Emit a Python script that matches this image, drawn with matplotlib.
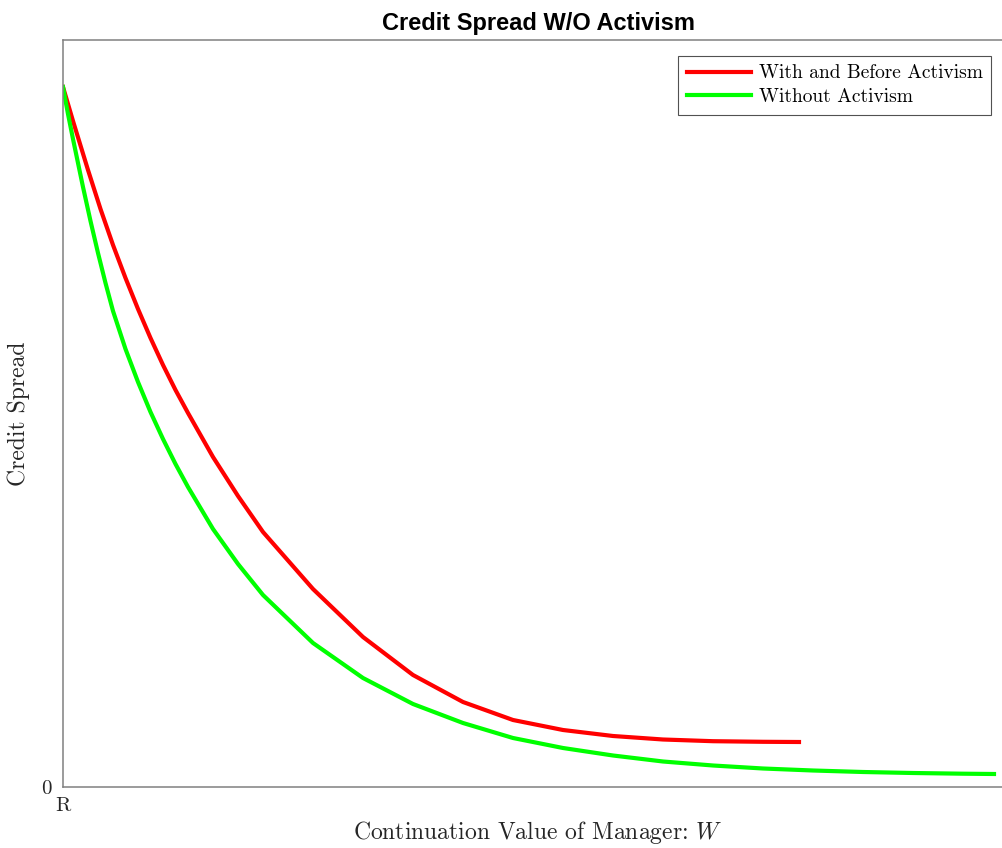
import matplotlib
matplotlib.use("Agg")
import matplotlib.pyplot as plt

# Continuation value W (measured from R) and credit spread for each case
w_with = [0.00, 0.10, 0.25, 0.375, 0.50, 0.625, 0.75, 0.875, 1.00, 1.125, 1.25, 1.50,
          1.75, 2.00, 2.50, 3.00, 3.50, 4.00, 4.50, 5.00, 5.50, 6.00, 6.50, 7.00, 7.36]
spread_with = [7.00, 6.66, 6.17, 5.78, 5.42, 5.09, 4.78, 4.49, 4.22, 3.97, 3.74, 3.30,
               2.91, 2.55, 1.98, 1.50, 1.12, 0.85, 0.67, 0.57, 0.51, 0.475, 0.458, 0.452,
               0.45]

w_without = [0.00, 0.05, 0.10, 0.20, 0.275, 0.35, 0.425, 0.50, 0.625, 0.75, 0.875, 1.00,
             1.125, 1.25, 1.50, 1.75, 2.00, 2.50, 3.00, 3.50, 4.00, 4.50, 5.00, 5.50,
             6.00, 6.50, 7.00, 7.50, 8.00, 8.50, 9.00, 9.31]
spread_without = [7.00, 6.73, 6.48, 6.00, 5.66, 5.34, 5.04, 4.76, 4.38, 4.05, 3.75, 3.48,
                  3.23, 3.00, 2.58, 2.23, 1.92, 1.44, 1.09, 0.83, 0.64, 0.49, 0.39, 0.315,
                  0.255, 0.215, 0.185, 0.165, 0.15, 0.14, 0.133, 0.13]

labels = ["With and Before Activism", "Without Activism"]
colors = ["#ff0000", "#00ff00"]

plt.rcParams["font.family"] = "cmr10"
plt.rcParams["mathtext.fontset"] = "cm"
plt.rcParams["axes.formatter.use_mathtext"] = True

fig = plt.figure(figsize=(10.03, 8.48), dpi=100)
ax = fig.add_axes([63 / 1003, 61 / 848, 950 / 1003, 747 / 848])

ax.plot(w_with, spread_with, color=colors[0], lw=3, label=labels[0])
ax.plot(w_without, spread_without, color=colors[1], lw=3, label=labels[1])

ax.set_xlim(0, 9.5)
ax.set_ylim(0, 7.47)
ax.set_xticks([0])
ax.set_xticklabels(["R"])
ax.set_yticks([0])
ax.set_yticklabels(["0"])
ax.tick_params(length=0, labelsize=15, colors="#262626", pad=8)
ax.tick_params(axis="x", pad=7)

for s in ax.spines.values():
    s.set_color("#808080")
    s.set_linewidth(1.1)

ax.set_xlabel("Continuation Value of Manager: $W$", fontsize=17, color="#262626", labelpad=3)
ax.set_ylabel("Credit Spread", fontsize=17, color="#262626", labelpad=8)
ax.set_title("Credit Spread W/O Activism", fontsize=17, fontweight="bold",
             family="Liberation Sans", pad=7)

leg = ax.legend(loc="upper left", bbox_to_anchor=(615 / 950, 0.979), fontsize=14,
                frameon=True, fancybox=False, edgecolor="#262626", handlelength=3.3,
                handletextpad=0.4, borderpad=0.45, labelspacing=0.3, borderaxespad=0)
leg.get_frame().set_linewidth(0.8)

fig.savefig("out.png", dpi=100)
